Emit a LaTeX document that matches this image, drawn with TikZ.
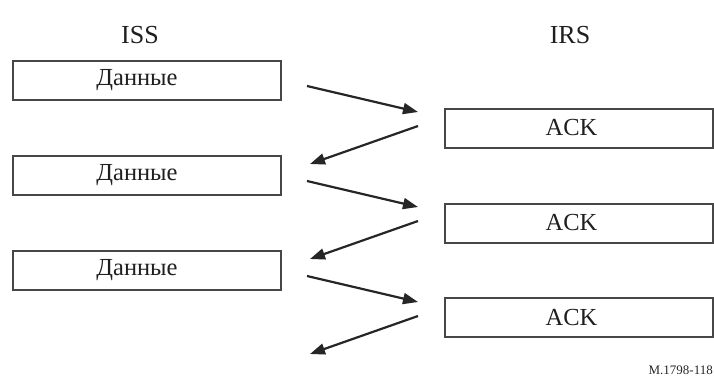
\documentclass[tikz,border=0pt]{standalone}
\usepackage{fontspec}
\setmainfont{Liberation Serif}
\usetikzlibrary{arrows.meta}

\begin{document}
\begin{tikzpicture}[x=1pt, y=-1pt,
  frame/.style={draw=black!72, line width=2pt, minimum width=268pt,
    minimum height=39pt, inner sep=0pt},
  frametext/.style={font=\fontsize{24.5}{24.5}\selectfont, text=black!88},
  msg/.style={draw=black!85, line width=2.2pt, -{Triangle[length=15pt,width=11pt]}}]
  \useasboundingbox (0,0) rectangle (714,376);

  % station headers
  \node[frametext, font=\fontsize{26}{26}\selectfont] (iss) at (140,35) {ISS};
  \node[frametext, font=\fontsize{26}{26}\selectfont] (irs) at (570,35) {IRS};

  % ISS frames
  \node[frame, label={[frametext, xshift=-10pt]center:Данные}] (data1) at (147,80) {};
  \node[frame, label={[frametext, xshift=-10pt]center:Данные}] (data2) at (147,175) {};
  \node[frame, label={[frametext, xshift=-10pt]center:Данные}] (data3) at (147,270.5) {};

  % IRS frames
  \node[frame, label={[frametext, xshift=-7pt]center:ACK}] (ack1) at (578.5,128) {};
  \node[frame, label={[frametext, xshift=-7pt]center:ACK}] (ack2) at (578.5,223) {};
  \node[frame, label={[frametext, xshift=-7pt]center:ACK}] (ack3) at (578.5,317) {};

  % arrow end points
  \coordinate (tx1) at (307,86);   \coordinate (rx1) at (418,112);
  \coordinate (ax1) at (418,126);  \coordinate (ar1) at (310,164);
  \coordinate (tx2) at (307,181);  \coordinate (rx2) at (418,207);
  \coordinate (ax2) at (418,221);  \coordinate (ar2) at (310,259);
  \coordinate (tx3) at (307,276);  \coordinate (rx3) at (418,302);
  \coordinate (ax3) at (418,316);  \coordinate (ar3) at (310,354);

  \draw[msg] (tx1) -- (rx1);
  \draw[msg] (ax1) -- (ar1);
  \draw[msg] (tx2) -- (rx2);
  \draw[msg] (ax2) -- (ar2);
  \draw[msg] (tx3) -- (rx3);
  \draw[msg] (ax3) -- (ar3);

  \node[anchor=base east, inner sep=0pt, font=\fontsize{13}{13}\selectfont,
    text=black!85] (figno) at (713,374) {M.1798-118};
\end{tikzpicture}
\end{document}
